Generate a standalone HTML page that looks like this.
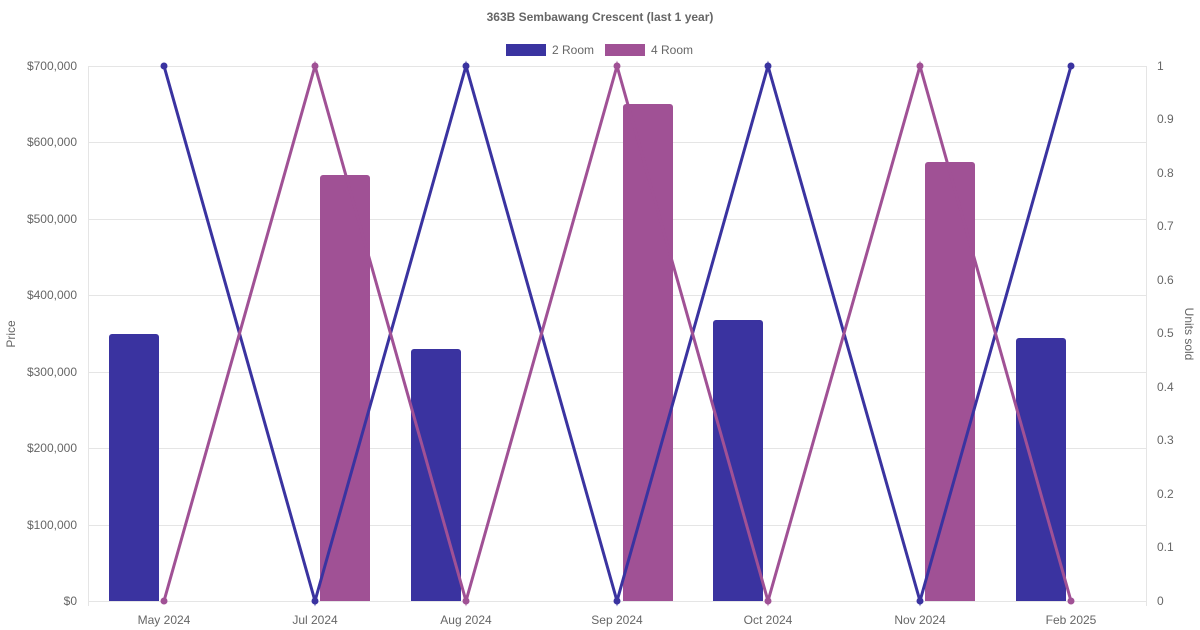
<!DOCTYPE html><html><head><style>body{margin:0;background:#fff}svg{display:block;font-family:"Liberation Sans",sans-serif}</style></head><body>
<svg width="1200" height="630" xmlns="http://www.w3.org/2000/svg">
<text x="600" y="21" text-anchor="middle" font-size="12" font-weight="bold" fill="#666">363B Sembawang Crescent (last 1 year)</text>
<rect x="506" y="44" width="40" height="12" fill="#3a33a0"/><text x="552" y="54" font-size="12" fill="#666">2 Room</text>
<rect x="605" y="44" width="40" height="12" fill="#a05195"/><text x="651" y="54" font-size="12" fill="#666">4 Room</text>
<g stroke="#e5e5e5" stroke-width="1">
<line x1="88" y1="66.5" x2="1147" y2="66.5"/><line x1="88" y1="142.5" x2="1147" y2="142.5"/><line x1="88" y1="219.5" x2="1147" y2="219.5"/><line x1="88" y1="295.5" x2="1147" y2="295.5"/><line x1="88" y1="372.5" x2="1147" y2="372.5"/><line x1="88" y1="448.5" x2="1147" y2="448.5"/><line x1="88" y1="525.5" x2="1147" y2="525.5"/><line x1="88" y1="601.5" x2="1147" y2="601.5"/>
<line x1="88.5" y1="66" x2="88.5" y2="606"/><line x1="1146.5" y1="66" x2="1146.5" y2="606"/>
</g>
<g font-size="12" fill="#666" text-anchor="end">
<text x="77" y="70">$700,000</text><text x="77" y="146">$600,000</text><text x="77" y="223">$500,000</text><text x="77" y="299">$400,000</text><text x="77" y="376">$300,000</text><text x="77" y="452">$200,000</text><text x="77" y="529">$100,000</text><text x="77" y="605">$0</text>
</g>
<g font-size="12" fill="#666">
<text x="1157" y="70">1</text><text x="1157" y="123">0.9</text><text x="1157" y="177">0.8</text><text x="1157" y="230">0.7</text><text x="1157" y="284">0.6</text><text x="1157" y="337">0.5</text><text x="1157" y="391">0.4</text><text x="1157" y="444">0.3</text><text x="1157" y="498">0.2</text><text x="1157" y="551">0.1</text><text x="1157" y="605">0</text>
</g>
<g font-size="12" fill="#666" text-anchor="middle">
<text x="164" y="624">May 2024</text><text x="315" y="624">Jul 2024</text><text x="466" y="624">Aug 2024</text><text x="617" y="624">Sep 2024</text><text x="768" y="624">Oct 2024</text><text x="920" y="624">Nov 2024</text><text x="1071" y="624">Feb 2025</text>
</g>
<text transform="translate(15,334) rotate(-90)" text-anchor="middle" font-size="12" fill="#666">Price</text>
<text transform="translate(1185,334) rotate(90)" text-anchor="middle" font-size="12" fill="#666">Units sold</text>
<g fill="#3a33a0">
<path d="M109,601V337a3,3 0 0 1 3,-3H156a3,3 0 0 1 3,3V601Z"/>
<path d="M411,601V352a3,3 0 0 1 3,-3H458a3,3 0 0 1 3,3V601Z"/>
<path d="M713,601V323a3,3 0 0 1 3,-3H760a3,3 0 0 1 3,3V601Z"/>
<path d="M1016,601V341a3,3 0 0 1 3,-3H1063a3,3 0 0 1 3,3V601Z"/>
</g>
<g fill="#a05195">
<path d="M320,601V178a3,3 0 0 1 3,-3H367a3,3 0 0 1 3,3V601Z"/>
<path d="M623,601V107a3,3 0 0 1 3,-3H670a3,3 0 0 1 3,3V601Z"/>
<path d="M925,601V165a3,3 0 0 1 3,-3H972a3,3 0 0 1 3,3V601Z"/>
</g>
<polyline fill="none" stroke="#3a33a0" stroke-width="3" points="164,66 315,601 466,66 617,601 768,66 920,601 1071,66"/>
<polyline fill="none" stroke="#a05195" stroke-width="3" points="164,601 315,66 466,601 617,66 768,601 920,66 1071,601"/>
<g fill="#3a33a0"><circle cx="164" cy="66" r="3.5"/><circle cx="315" cy="601" r="3.5"/><circle cx="466" cy="66" r="3.5"/><circle cx="617" cy="601" r="3.5"/><circle cx="768" cy="66" r="3.5"/><circle cx="920" cy="601" r="3.5"/><circle cx="1071" cy="66" r="3.5"/></g>
<g fill="#a05195"><circle cx="164" cy="601" r="3.5"/><circle cx="315" cy="66" r="3.5"/><circle cx="466" cy="601" r="3.5"/><circle cx="617" cy="66" r="3.5"/><circle cx="768" cy="601" r="3.5"/><circle cx="920" cy="66" r="3.5"/><circle cx="1071" cy="601" r="3.5"/></g>
</svg></body></html>
